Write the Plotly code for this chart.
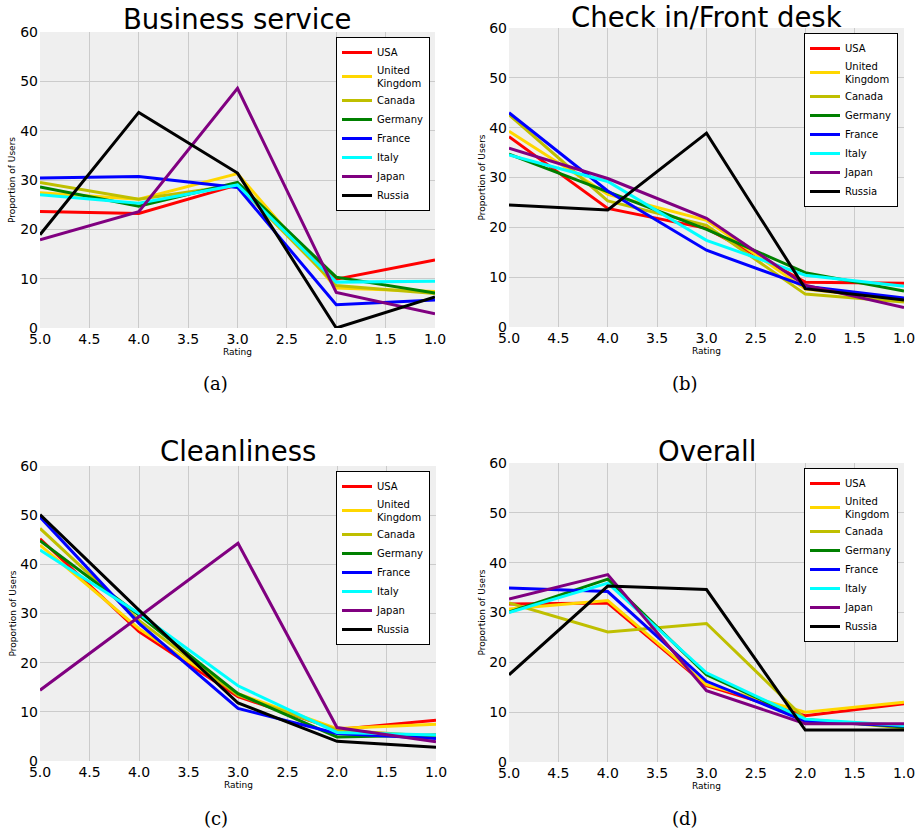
import plotly.graph_objects as go

ratings = [5.0, 4.0, 3.0, 2.0, 1.0]
countries = ["USA", "United<br>Kingdom", "Canada", "Germany", "France", "Italy", "Japan", "Russia"]
colors = ["#ff0000", "#ffd700", "#bfbf00", "#008000", "#0000ff", "#00ffff", "#800080", "#000000"]

titles = ["Business service", "Check in/Front desk", "Cleanliness", "Overall"]
captions = ["(a)", "(b)", "(c)", "(d)"]
x_ticks = [5.0, 4.5, 4.0, 3.5, 3.0, 2.5, 2.0, 1.5, 1.0]
y_ticks = [0, 10, 20, 30, 40, 50, 60]

business_service = [
    [23.6, 23.2, 29.0, 9.9, 13.8],   # USA
    [27.4, 26.1, 31.3, 8.1, 7.4],    # UK
    [29.5, 26.1, 29.0, 8.6, 7.0],    # Canada
    [28.6, 24.7, 29.5, 10.3, 7.1],   # Germany
    [30.4, 30.7, 28.5, 4.7, 5.7],    # France
    [27.0, 25.3, 29.0, 9.3, 9.5],    # Italy
    [17.9, 23.6, 48.6, 7.2, 2.9],    # Japan
    [18.9, 43.7, 31.4, 0.0, 6.3],    # Russia
]
check_in = [
    [38.2, 23.8, 19.8, 9.0, 8.8],
    [39.3, 26.6, 21.4, 7.6, 5.4],
    [42.6, 25.3, 20.4, 6.6, 5.0],
    [34.7, 27.1, 19.6, 10.9, 7.2],
    [43.0, 27.3, 15.4, 8.2, 5.8],
    [34.5, 29.2, 17.4, 10.4, 8.2],
    [35.9, 29.8, 21.8, 8.4, 3.9],
    [24.5, 23.5, 38.9, 7.7, 5.4],
]
cleanliness = [
    [45.2, 26.3, 13.1, 6.4, 8.3],
    [43.9, 26.9, 13.7, 6.6, 7.5],
    [47.3, 28.6, 13.4, 6.3, 5.0],
    [44.8, 29.7, 13.7, 4.9, 5.3],
    [49.6, 28.0, 10.7, 5.6, 4.6],
    [42.9, 30.0, 15.3, 5.8, 5.3],
    [14.4, 29.3, 44.3, 6.8, 3.9],
    [50.1, 30.7, 11.8, 4.0, 2.8],
]
overall = [
    [31.7, 31.9, 15.3, 9.3, 11.7],
    [30.7, 32.4, 15.5, 10.0, 12.0],
    [31.9, 26.1, 27.8, 8.6, 6.8],
    [30.1, 36.7, 17.5, 8.5, 7.0],
    [34.9, 34.2, 16.2, 8.2, 7.2],
    [30.0, 35.9, 17.9, 8.6, 7.3],
    [32.7, 37.6, 14.3, 7.7, 7.7],
    [17.5, 35.3, 34.6, 6.4, 6.4],
]
panels = [business_service, check_in, cleanliness, overall]

W, H = 916, 834
# plot-area boxes in pixels (left, right, top, bottom)
boxes = [(40, 435, 32, 328), (509, 904, 28, 327), (40, 436, 466, 761), (509, 904, 463, 762)]
title_y = [19.5, 17.5, 450.5, 450.5]
caption_y = [383, 383, 818, 818]
legend_pos = [(430, 37), (898, 33), (430, 471), (898, 468)]


def px(v):
    return v / W


def py(v):
    return 1 - v / H


fig = go.Figure()
layout = dict(
    width=W, height=H, margin=dict(l=0, r=0, t=0, b=0, autoexpand=False),
    paper_bgcolor="white", plot_bgcolor="#efefef",
    font=dict(family="DejaVu Sans", color="black"),
    annotations=[], showlegend=True,
)

for i, data in enumerate(panels):
    sfx = "" if i == 0 else str(i + 1)
    for c, col, vals in zip(countries, colors, data):
        fig.add_trace(go.Scatter(
            x=ratings, y=vals, mode="lines", name=c,
            line=dict(color=col, width=3),
            xaxis="x" + sfx, yaxis="y" + sfx, legend="legend" + sfx,
        ))
    l, r, t, b = boxes[i]
    layout["xaxis" + sfx] = dict(
        domain=[px(l), px(r)], range=[5, 1], tickvals=x_ticks, tickformat=".1f",
        showgrid=True, gridcolor="#cbcbcb", gridwidth=1, zeroline=False,
        showline=False, ticks="", tickfont=dict(size=14), ticklabelstandoff=1,
        anchor="y" + sfx, automargin=False,
    )
    layout["yaxis" + sfx] = dict(
        domain=[py(b), py(t)], range=[0, 60], tickvals=y_ticks,
        showgrid=True, gridcolor="#cbcbcb", gridwidth=1, zeroline=False,
        showline=False, ticks="", tickfont=dict(size=14), ticklabelstandoff=1,
        anchor="x" + sfx, automargin=False,
    )
    lx, ly = legend_pos[i]
    layout["legend" + sfx] = dict(
        x=px(lx), y=py(ly), xanchor="right", yanchor="top",
        bgcolor="white", bordercolor="black", borderwidth=1,
        font=dict(size=10), tracegroupgap=0, itemwidth=30,
    )
    cx = (l + r) / 2
    layout["annotations"] += [
        dict(text=titles[i], x=px(cx), y=py(title_y[i]), xref="paper", yref="paper",
             showarrow=False, font=dict(size=27.5), xanchor="center", yanchor="middle"),
        dict(text="Rating", x=px(cx), y=py(b + 24), xref="paper", yref="paper",
             showarrow=False, font=dict(size=9), xanchor="center", yanchor="middle"),
        dict(text="Proportion of Users", x=px(l - 28), y=py((t + b) / 2),
             xref="paper", yref="paper", textangle=-90,
             showarrow=False, font=dict(size=9), xanchor="center", yanchor="middle"),
        dict(text=captions[i], x=px(cx - 22), y=py(caption_y[i]), xref="paper", yref="paper",
             showarrow=False, font=dict(size=18, family="DejaVu Serif"),
             xanchor="center", yanchor="middle"),
    ]

fig.update_layout(**layout)
# remove the default 8px page margin so the figure fills the window exactly
fig.write_html("out.html", config={"displayModeBar": False},
               post_script="document.body.style.margin='0px';")
